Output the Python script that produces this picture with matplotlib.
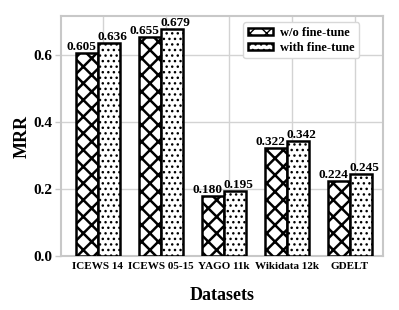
import numpy as np
import matplotlib
matplotlib.use('Agg')
import matplotlib.pyplot as plt

datasets = ['ICEWS 14', 'ICEWS 05-15', 'YAGO 11k', 'Wikidata 12k', 'GDELT']
mrr_wo_ft = [0.605, 0.655, 0.180, 0.322, 0.224]
mrr_with_ft = [0.636, 0.679, 0.195, 0.342, 0.245]
series_names = ['w/o fine-tune', 'with fine-tune']

plt.rcParams['font.family'] = ['Liberation Serif', 'DejaVu Serif']
plt.rcParams['font.weight'] = 'bold'

fig = plt.figure(figsize=(3.99, 3.10), dpi=100)
ax = fig.add_axes([0.153, 0.174, 0.807, 0.774])

x = np.arange(len(datasets))
width = 0.35
plt.rcParams['hatch.linewidth'] = 1.8
b1 = ax.bar(x - width / 2, mrr_wo_ft, width, color='white', edgecolor='black',
            linewidth=1.8, hatch='xx', label=series_names[0], zorder=3)
plt.rcParams['hatch.linewidth'] = 1.0
b2 = ax.bar(x + width / 2, mrr_with_ft, width, color='white', edgecolor='black',
            linewidth=1.8, hatch='...', label=series_names[1], zorder=3)

for rect, v in zip(b1, mrr_wo_ft):
    ax.annotate('%.3f' % v, (rect.get_x() + rect.get_width() / 2, v),
                xytext=(-3.5, 0), textcoords='offset points',
                ha='center', va='bottom', fontsize=9.5, fontweight='bold')
for rect, v in zip(b2, mrr_with_ft):
    ax.annotate('%.3f' % v, (rect.get_x() + rect.get_width() / 2, v),
                xytext=(2.5, 0), textcoords='offset points',
                ha='center', va='bottom', fontsize=9.5, fontweight='bold')

# grid
ax.set_axisbelow(True)
ax.yaxis.grid(True, color='#d3d3d3', linewidth=1.0, zorder=0)
for xi in x:
    ax.axvline(xi + 0.08, color='#d3d3d3', linewidth=1.0, zorder=0)

ax.set_xlim(-0.58, 4.53)
ax.set_ylim(0, 0.716)
ax.set_yticks([0.0, 0.2, 0.4, 0.6])
ax.set_yticklabels(['0.0', '0.2', '0.4', '0.6'], fontsize=11, fontweight='bold')
ax.set_xticks(x)
ax.set_xticklabels(datasets, fontsize=8, fontweight='bold')
ax.tick_params(axis='x', length=0, pad=4)
ax.tick_params(axis='y', length=4, color='#c8c8c8', width=1.0, pad=2)

for s in ax.spines.values():
    s.set_color('#c8c8c8')
    s.set_linewidth(1.5)

ax.set_ylabel('MRR', fontsize=13, fontweight='bold', labelpad=2)
ax.set_xlabel('Datasets', fontsize=13, fontweight='bold', labelpad=12)

leg = ax.legend(loc='upper right', fontsize=9, handlelength=2.0, handleheight=0.5,
                borderpad=0.35, labelspacing=0.25, handletextpad=0.6,
                bbox_to_anchor=(0.945, 1.0), framealpha=1, edgecolor='#d8d8d8')
leg.get_frame().set_linewidth(1.0)

fig.savefig('out.png', dpi=100)
